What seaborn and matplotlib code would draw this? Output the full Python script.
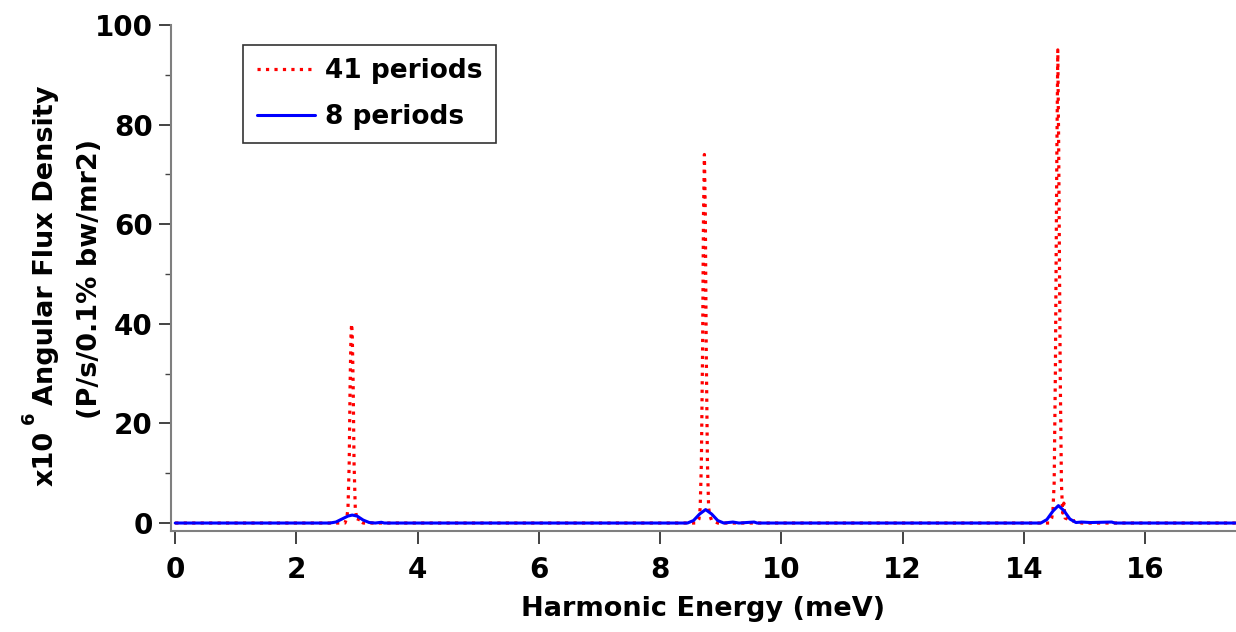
import matplotlib
matplotlib.use("Agg")
import matplotlib.pyplot as plt
import seaborn as sns
import pandas as pd

# 41 periods (red dotted)
x41 = [0.0, 2.80, 2.83, 2.85, 2.87, 2.885, 2.90, 2.91, 2.92, 2.935, 2.95, 2.97, 2.99, 3.01, 3.03, 3.06, 3.10,
       8.60, 8.64, 8.66, 8.68, 8.70, 8.715, 8.73, 8.745, 8.76, 8.78, 8.80, 8.82, 8.85, 8.90, 8.95,
       14.42, 14.46, 14.48, 14.50, 14.52, 14.545, 14.56, 14.575, 14.60, 14.62, 14.64, 14.66, 14.68, 14.72, 14.78, 14.85, 14.95,
       17.5]
y41 = [0.0, 0.0, 1.0, 3.0, 12.0, 28.0, 38.0, 40.0, 38.0, 28.0, 12.0, 3.0, 1.2, 0.4, 1.0, 0.3, 0.0,
       0.0, 0.8, 3.0, 12.0, 35.0, 62.0, 74.0, 62.0, 35.0, 12.0, 3.0, 1.5, 0.5, 0.3, 0.0,
       0.0, 1.0, 2.5, 8.0, 30.0, 75.0, 95.0, 75.0, 30.0, 8.0, 2.0, 4.0, 1.0, 0.8, 0.3, 0.5, 0.0,
       0.0]

# 8 periods (blue solid)
x8 = [0.0, 2.55, 2.65, 2.75, 2.85, 2.92, 3.00, 3.10, 3.20, 3.30, 3.40, 3.45,
      8.45, 8.55, 8.65, 8.75, 8.85, 8.95, 9.05, 9.20, 9.30, 9.55, 9.60,
      14.28, 14.38, 14.48, 14.57, 14.66, 14.76, 14.86, 14.95, 15.10, 15.45, 15.50,
      17.5]
y8 = [0.0, 0.0, 0.2, 0.8, 1.4, 1.6, 1.4, 0.6, 0.1, 0.0, 0.15, 0.0,
      0.0, 0.5, 1.8, 2.7, 1.8, 0.5, 0.0, 0.2, 0.0, 0.2, 0.0,
      0.0, 0.7, 2.4, 3.5, 2.5, 0.8, 0.1, 0.2, 0.1, 0.2, 0.0,
      0.0]

series_labels = ["41 periods", "8 periods"]
xticks = [0, 2, 4, 6, 8, 10, 12, 14, 16]
yticks = [0, 20, 40, 60, 80, 100]

sns.set_style("ticks")
plt.rcParams['font.family'] = ['DejaVu Sans']
plt.rcParams['mathtext.fontset'] = 'dejavusans'
plt.rcParams['text.color'] = 'black'
plt.rcParams['axes.labelcolor'] = 'black'
plt.rcParams['xtick.color'] = 'black'
plt.rcParams['ytick.color'] = 'black'

W, H = 1236, 632
fig = plt.figure(figsize=(W / 100, H / 100), dpi=100)
ax = fig.add_axes([171 / W, 1 - 531 / H, 1 - 171 / W, (531 - 25) / H])

d41 = pd.DataFrame({"x": x41, "y": y41})
d8 = pd.DataFrame({"x": x8, "y": y8})
sns.lineplot(data=d41, x="x", y="y", ax=ax, sort=False, estimator=None,
             color="#ff0000", linestyle=":", linewidth=2.3, label=series_labels[0], zorder=2)
sns.lineplot(data=d8, x="x", y="y", ax=ax, sort=False, estimator=None,
             color="#0000ff", linestyle="-", linewidth=2.2, label=series_labels[1], zorder=3)

ax.set_xlim(-0.07, 17.5)
ax.set_ylim(-1.6, 100)
ax.set_xticks(xticks)
ax.set_yticks(yticks)
ax.set_yticks([10, 30, 50, 70, 90], minor=True)

for s in ["top", "right"]:
    ax.spines[s].set_visible(False)
for s in ["left", "bottom"]:
    ax.spines[s].set_color("#7f7f7f")
    ax.spines[s].set_linewidth(1.5)

ax.tick_params(axis="y", which="major", length=9, width=1.2, color="#222222", pad=4,
               labelsize=20, direction="out", left=True, labelcolor="black")
ax.tick_params(axis="y", which="minor", length=4, width=1.0, color="#444444", left=True, direction="out")
ax.tick_params(axis="x", which="major", length=9, width=1.2, color="#222222", pad=9,
               labelsize=20, direction="out", bottom=True, labelcolor="black")
ax.tick_params(axis="x", which="minor", bottom=False)
for lab in ax.get_xticklabels() + ax.get_yticklabels():
    lab.set_fontweight("bold")

ax.set_xlabel("Harmonic Energy (meV)", fontsize=19.5, fontweight="bold", labelpad=9, color="black")
ax.set_ylabel("")

# y-axis label drawn in pieces (rotated)
def fy(py):
    return 1 - py / H

def fx(px):
    return px / W

fig.text(fx(46), fy(486), "x10", rotation=90, ha="center", va="bottom",
         fontsize=19.5, fontweight="bold", color="black")
fig.text(fx(29), fy(424), "6", rotation=90, ha="center", va="bottom",
         fontsize=13, fontweight="bold", color="black")
fig.text(fx(46), fy(86), "Angular Flux Density", rotation=90, ha="center", va="top",
         fontsize=19.5, fontweight="bold", color="black")
fig.text(fx(90), fy(279), "(P/s/0.1% bw/mr2)", rotation=90, ha="center", va="center",
         fontsize=19.5, fontweight="bold", color="black")

leg = ax.legend(loc="upper left", bbox_to_anchor=(0.068, 0.960), frameon=True, fancybox=False,
                prop={"size": 19, "weight": "bold"}, handlelength=2.2, borderpad=0.5,
                labelspacing=0.75, handletextpad=0.4, borderaxespad=0.0)
leg.get_frame().set_edgecolor("#333333")
leg.get_frame().set_linewidth(1.2)
leg.get_frame().set_alpha(1.0)
for t in leg.get_texts():
    t.set_color("black")

fig.savefig("out.png", dpi=100)
